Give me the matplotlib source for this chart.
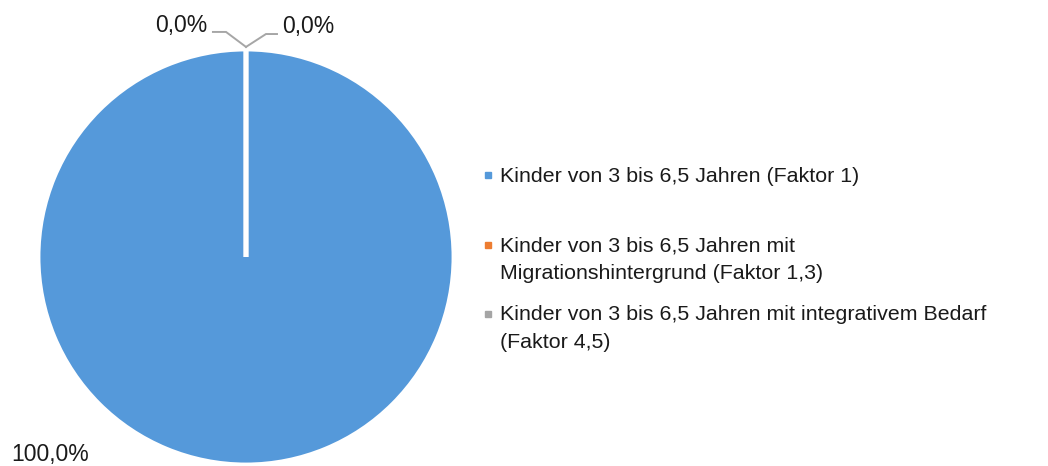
import matplotlib.pyplot as plt
from matplotlib.lines import Line2D

plt.rcParams['font.family'] = ['Liberation Sans', 'DejaVu Sans']

# data
categories = [
    "Kinder von 3 bis 6,5 Jahren (Faktor 1)",
    "Kinder von 3 bis 6,5 Jahren mit\nMigrationshintergrund (Faktor 1,3)",
    "Kinder von 3 bis 6,5 Jahren mit integrativem Bedarf\n(Faktor 4,5)",
]
shares = [100.0, 0.0, 0.0]
colors = ['#5599DA', '#ED7D31', '#A5A5A5']

# label positions (data coords, pie radius = 1) and legend rows (pixel baselines)
label_pos = [(-0.94, -0.95), (-0.31, 1.115), (0.30, 1.11)]
leader_pts = [None,
              [(-0.159, 1.082), (-0.096, 1.082), (0.0, 1.01)],
              [(0.149, 1.072), (0.096, 1.072), (0.0, 1.01)]]
legend_baselines = [182, 252, 321]
line_step = 27  # px between legend text lines

W, H = 1048, 466
fig = plt.figure(figsize=(W / 100, H / 100), dpi=100)
cx, cy, r = 246, 257, 208
ax = fig.add_axes([(cx - r) / W, (H - cy - r) / H, 2 * r / W, 2 * r / H])

ax.pie(shares, colors=colors, startangle=90, counterclock=False,
       wedgeprops=dict(edgecolor='white', linewidth=3.5))
ax.set_xlim(-1, 1)
ax.set_ylim(-1, 1)
ax.set_aspect('equal')
ax.axis('off')

for v, (lx, ly), pts in zip(shares, label_pos, leader_pts):
    txt = f"{v:.1f}".replace('.', ',') + '%'
    ax.text(lx, ly, txt, ha='center', va='center', fontsize=16.5, color='#1a1a1a', clip_on=False)
    if pts:
        xs, ys = zip(*pts)
        ax.plot(xs, ys, color='#A6A6A6', lw=1.4, clip_on=False, solid_joinstyle='miter')

# legend (va='baseline' anchors the last line of a multi-line label)
for lab, c, yb in zip(categories, colors, legend_baselines):
    n = lab.count('\n')
    fig.text(500 / W, 1 - (yb + n * line_step) / H, lab, ha='left', va='baseline',
             fontsize=15.4, color='#1a1a1a', linespacing=1.6)
    fig.add_artist(Line2D([488 / W], [1 - (yb - 7) / H], marker='s', markersize=5,
                          color=c, linestyle='none', transform=fig.transFigure))

fig.savefig('out.png', dpi=100)
